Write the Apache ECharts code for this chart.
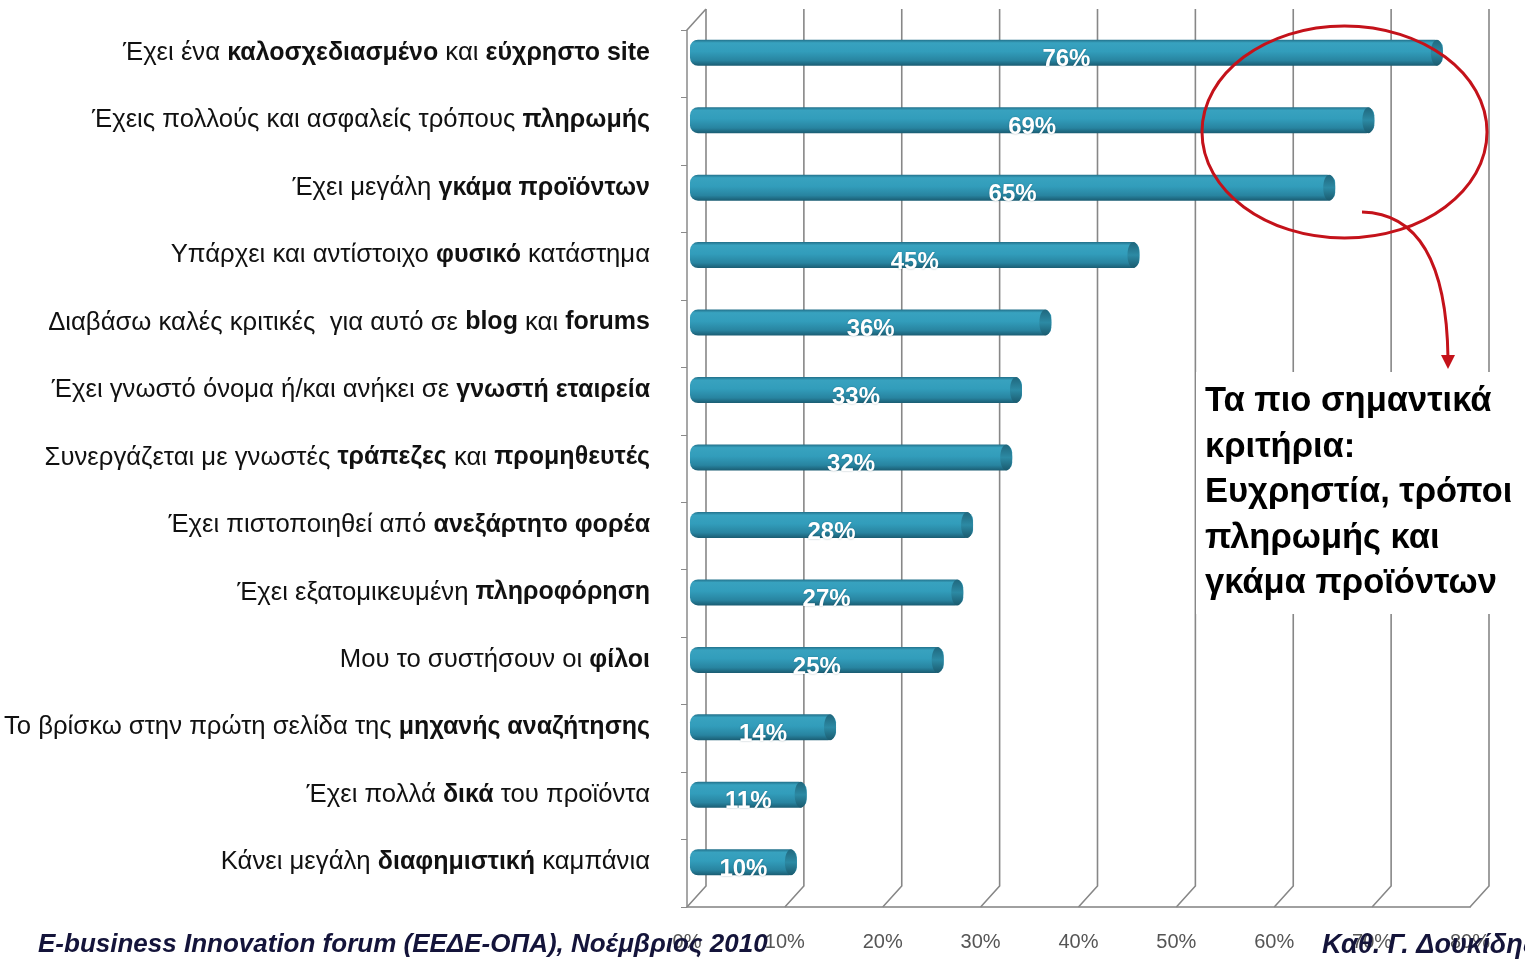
<!DOCTYPE html>
<html>
<head>
<meta charset="utf-8">
<script src="https://cdn.jsdelivr.net/npm/echarts@6/dist/echarts.min.js"></script>
<style>
html,body{margin:0;padding:0;background:#fff;}
#c{width:1525px;height:966px;}
</style>
</head>
<body>
<div id="c"></div>
<script>
// ---- data ----
const categories = [
  'Έχει ένα καλοσχεδιασμένο και εύχρηστο site',
  'Έχεις πολλούς και ασφαλείς τρόπους πληρωμής',
  'Έχει μεγάλη γκάμα προϊόντων',
  'Υπάρχει και αντίστοιχο φυσικό κατάστημα',
  'Διαβάσω καλές κριτικές  για αυτό σε blog και forums',
  'Έχει γνωστό όνομα ή/και ανήκει σε γνωστή εταιρεία',
  'Συνεργάζεται με γνωστές τράπεζες και προμηθευτές',
  'Έχει πιστοποιηθεί από ανεξάρτητο φορέα',
  'Έχει εξατομικευμένη πληροφόρηση',
  'Μου το συστήσουν οι φίλοι',
  'Το βρίσκω στην πρώτη σελίδα της μηχανής αναζήτησης',
  'Έχει πολλά δικά του προϊόντα',
  'Κάνει μεγάλη διαφημιστική καμπάνια'
];
const boldPhrases = [
  ['καλοσχεδιασμένο', 'εύχρηστο site'],
  ['πληρωμής'],
  ['γκάμα προϊόντων'],
  ['φυσικό'],
  ['blog', 'forums'],
  ['γνωστή εταιρεία'],
  ['τράπεζες', 'προμηθευτές'],
  ['ανεξάρτητο φορέα'],
  ['πληροφόρηση'],
  ['φίλοι'],
  ['μηχανής αναζήτησης'],
  ['δικά'],
  ['διαφημιστική']
];
const values = [76, 69, 65, 45, 36, 33, 32, 28, 27, 25, 14, 11, 10];
const xTicks = [0, 10, 20, 30, 40, 50, 60, 70, 80];
const annotationText = 'Τα πιο σημαντικά\nκριτήρια:\nΕυχρηστία, τρόποι\nπληρωμής και\nγκάμα προϊόντων';
const footerLeft = 'E-business Innovation forum (ΕΕΔΕ-ΟΠΑ), Νοέμβριος 2010';
const footerRight = 'Καθ. Γ. Δουκίδης';

// ---- layout / style ----
const DX = 19, DY = -21;          // depth of the 3D back wall
const BX = 10, BY = -11;          // bar offset (middle of depth)
const G = {left: 687, right: 55, top: 30, bottom: 59};

function richLabel(name) {
  const idx = categories.indexOf(name);
  const bolds = boldPhrases[idx] || [];
  let out = '', rest = name;
  bolds.forEach(b => {
    const p = rest.indexOf(b);
    if (p < 0) return;
    if (p > 0) out += '{r|' + rest.slice(0, p) + '}';
    out += '{b|' + b + '}';
    rest = rest.slice(p + b.length);
  });
  if (rest.length) out += '{r|' + rest + '}';
  return out;
}

const chart = echarts.init(document.getElementById('c'));
const barGrad = new echarts.graphic.LinearGradient(0, 0, 0, 1, [
  {offset: 0, color: '#22708a'},
  {offset: 0.12, color: '#38a2bf'},
  {offset: 0.45, color: '#329dbb'},
  {offset: 0.8, color: '#2884a0'},
  {offset: 1, color: '#1a5c72'}
]);
const capGrad = new echarts.graphic.LinearGradient(0, 0, 0, 1, [
  {offset: 0, color: '#20677d'},
  {offset: 0.5, color: '#2c8aa4'},
  {offset: 1, color: '#1a5a6e'}
]);

chart.setOption({
  animation: false,
  grid: [
    {left: G.left, right: G.right, top: G.top, bottom: G.bottom},
    {left: G.left + BX, right: G.right - BX, top: G.top + BY, bottom: G.bottom - BY}
  ],
  xAxis: [
    {
      type: 'value', gridIndex: 0, min: 0, max: 80, interval: 10,
      axisLine: {show: true, lineStyle: {color: '#a0a0a0', width: 2}},
      axisTick: {show: false},
      splitLine: {show: false},
      axisLabel: {formatter: '{value}%', color: '#555', fontSize: 20, margin: 25,
        fontFamily: '"Liberation Sans", Arial, sans-serif'}
    },
    {
      type: 'value', gridIndex: 1, min: 0, max: 80, interval: 10, show: false
    }
  ],
  yAxis: [
    {
      type: 'category', gridIndex: 0, inverse: true, data: categories,
      axisLine: {show: true, lineStyle: {color: '#8a8a8a', width: 1.5}},
      axisTick: {show: true, length: 6, lineStyle: {color: '#8a8a8a'}},
      axisLabel: {show: false}
    },
    {
      type: 'category', gridIndex: 1, inverse: true, data: categories,
      axisLine: {show: false}, axisTick: {show: false},
      axisLabel: {
        margin: 47, formatter: richLabel,
        rich: {
          r: {fontSize: 25.7, color: '#111', fontFamily: '"Liberation Sans", Arial, sans-serif'},
          b: {fontSize: 25, color: '#111', fontWeight: 'bold', fontFamily: '"Liberation Sans", Arial, sans-serif'}
        }
      }
    }
  ],
  series: [
    {
      type: 'custom', name: 'walls', xAxisIndex: 0, yAxisIndex: 0,
      data: xTicks.map(v => [v, 0]), encode: {x: 0, y: 1}, z: 1, silent: true,
      renderItem: function (params, api) {
        const cs = params.coordSys;
        const x = api.coord([api.value(0), 0])[0];
        const bottom = cs.y + cs.height, top = cs.y;
        const children = [{
          type: 'polyline',
          shape: {points: [[x, bottom], [x + DX, bottom + DY], [x + DX, top + DY]]},
          style: {stroke: '#878787', lineWidth: 1.6, fill: null}
        }];
        if (api.value(0) === 0) {
          children.push({
            type: 'line',
            shape: {x1: x, y1: top, x2: x + DX, y2: top + DY},
            style: {stroke: '#878787', lineWidth: 1.6}
          });
        }
        return {type: 'group', children: children};
      }
    },
    {
      type: 'custom', name: 'bars', xAxisIndex: 1, yAxisIndex: 1,
      data: values.map((v, i) => [v, i]), encode: {x: 0, y: 1}, z: 3,
      renderItem: function (params, api) {
        const v = api.value(0), i = api.value(1);
        const p0 = api.coord([0, i]);
        const p1 = api.coord([v, i]);
        const h = 26;
        const x0 = p0[0] - 7, x1 = p1[0] + 2;
        const y = p0[1] - h / 2;
        return {
          type: 'group',
          children: [
            {type: 'rect', shape: {x: x0, y: y, width: x1 - x0, height: h, r: 8},
              style: {fill: barGrad}},
            {type: 'ellipse', shape: {cx: x1 - 6, cy: p0[1], rx: 6, ry: h / 2},
              style: {fill: capGrad}},
            {type: 'text', x: (x0 + x1) / 2, y: p0[1] + 7,
              style: {text: v + '%', fill: '#fff', fontSize: 24, fontWeight: 'bold',
                fontFamily: '"Liberation Sans", Arial, sans-serif',
                align: 'center', verticalAlign: 'middle',
                textShadowColor: 'rgba(0,40,60,0.35)', textShadowBlur: 2}}
          ]
        };
      }
    }
  ],
  graphic: [
    {type: 'rect', z: 50, shape: {x: 1196, y: 372, width: 329, height: 242}, style: {fill: '#fff'}},
    {type: 'text', z: 51, left: 1205, top: 379,
      style: {text: annotationText, fontSize: 34.5, fontWeight: 'bold', lineHeight: 45.5,
        fill: '#000', fontFamily: '"Liberation Sans", Arial, sans-serif'}},
    {type: 'ellipse', z: 52, shape: {cx: 1344.5, cy: 132, rx: 142.5, ry: 106},
      style: {fill: null, stroke: '#c4121a', lineWidth: 3}},
    {type: 'bezierCurve', z: 52, shape: {x1: 1362, y1: 212, cpx1: 1446, cpy1: 214, x2: 1448, y2: 358},
      style: {fill: null, stroke: '#c4121a', lineWidth: 3}},
    {type: 'polygon', z: 52, shape: {points: [[1441, 355], [1455, 355], [1448, 369]]},
      style: {fill: '#c4121a'}},
    {type: 'text', z: 60, left: 38, top: 932,
      style: {text: footerLeft, fontSize: 26, fontWeight: 'bold', fontStyle: 'italic', fill: '#14143a',
        fontFamily: '"Liberation Sans", Arial, sans-serif'}},
    {type: 'text', z: 60, left: 1322, top: 932,
      style: {text: footerRight, fontSize: 27, fontWeight: 'bold', fontStyle: 'italic', fill: '#14143a',
        fontFamily: '"Liberation Sans", Arial, sans-serif'}}
  ]
});
</script>
</body>
</html>
